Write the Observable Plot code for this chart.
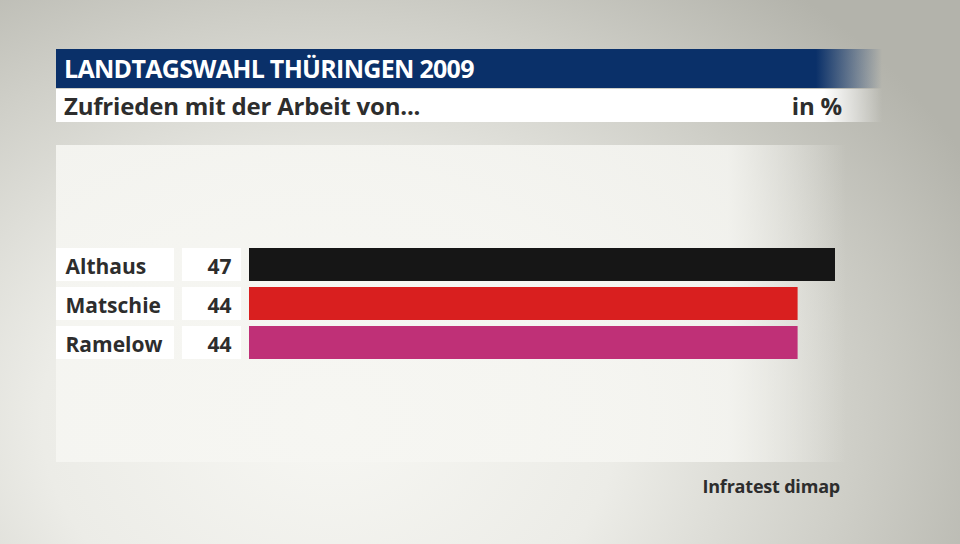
<!DOCTYPE html>
<html>
<head>
<meta charset="utf-8">
<script src="https://cdn.jsdelivr.net/npm/d3@7"></script>
<script src="https://cdn.jsdelivr.net/npm/@observablehq/plot@0.6"></script>
<style>
  html, body { margin: 0; padding: 0; }
  #stage {
    position: relative; width: 960px; height: 544px; overflow: hidden;
    background: radial-gradient(ellipse 720px 560px at 330px 420px, #f7f7f3 0%, #ecece7 40%, #cfcfc8 72%, #b3b3ab 100%);
    font-family: "Open Sans", sans-serif;
  }
  #panel {
    position: absolute; left: 56px; top: 145px; width: 790px; height: 317px;
    background: linear-gradient(to right, rgba(246,246,242,0.9) 0%, rgba(246,246,242,0.85) 85%, rgba(246,246,242,0) 100%);
  }
  #titlebar {
    position: absolute; left: 56px; top: 49px; width: 826px; height: 39px;
    background: linear-gradient(to right, #0a3069 0%, #0a3069 92%, rgba(10,48,105,0) 100%);
    color: #fff; font-weight: 700; font-size: 25px; line-height: 39px;
    box-sizing: border-box; padding-left: 8px; letter-spacing: -0.7px;
  }
  #subbar {
    position: absolute; left: 56px; top: 89px; width: 826px; height: 33px;
    background: linear-gradient(to right, #ffffff 0%, #ffffff 93%, rgba(255,255,255,0) 100%);
    color: #2d2d2d; font-weight: 700; font-size: 24px; line-height: 33px;
    box-sizing: border-box; padding-left: 8px; letter-spacing: -0.2px;
  }
  #unit { position: absolute; right: 40px; top: 0; }
  #source {
    position: absolute; right: 120px; top: 474px; color: #2d2d2d;
    font-weight: 700; font-size: 18px; letter-spacing: -0.2px;
  }
  #chart { position: absolute; left: 0; top: 0; }
</style>
</head>
<body>
<div id="stage">
  <div id="panel"></div>
  <div id="titlebar">LANDTAGSWAHL THÜRINGEN 2009</div>
  <div id="subbar">Zufrieden mit der Arbeit von...<span id="unit">in %</span></div>
  <div id="chart"></div>
  <div id="source">Infratest dimap</div>
</div>
<script>
const names = ["Althaus", "Matschie", "Ramelow"];
const values = [47, 44, 44];
const colors = ["#161616", "#d91f1f", "#bf3077"];

const data = names.map((n, i) => ({name: n, value: values[i], color: colors[i]}));

const plot = Plot.plot({
  width: 960,
  height: 544,
  margin: 0,
  style: {background: "transparent", fontFamily: "Open Sans, sans-serif"},
  x: {domain: [0, 47], range: [249, 835], axis: null},
  y: {domain: names, range: [245, 362], paddingInner: 0.154, paddingOuter: 0.077, axis: null},
  color: {type: "identity"},
  marks: [
    // name boxes
    Plot.barX(data, {y: "name", x1: () => 0, x2: () => 0, fill: "#ffffff", insetLeft: -193, insetRight: 75}),
    // value boxes
    Plot.barX(data, {y: "name", x1: () => 0, x2: () => 0, fill: "#ffffff", insetLeft: -67, insetRight: 8}),
    // bars
    Plot.barX(data, {y: "name", x: "value", fill: "color"}),
    Plot.text(data, {y: "name", x: () => 0, text: "name", textAnchor: "start", dx: -184, dy: 2,
      fontSize: 21, fontWeight: 700, fill: "#2d2d2d"}),
    Plot.text(data, {y: "name", x: () => 0, text: d => String(d.value), textAnchor: "end", dx: -18, dy: 2,
      fontSize: 21, fontWeight: 700, fill: "#2d2d2d"})
  ]
});
document.getElementById("chart").appendChild(plot);
</script>
</body>
</html>
